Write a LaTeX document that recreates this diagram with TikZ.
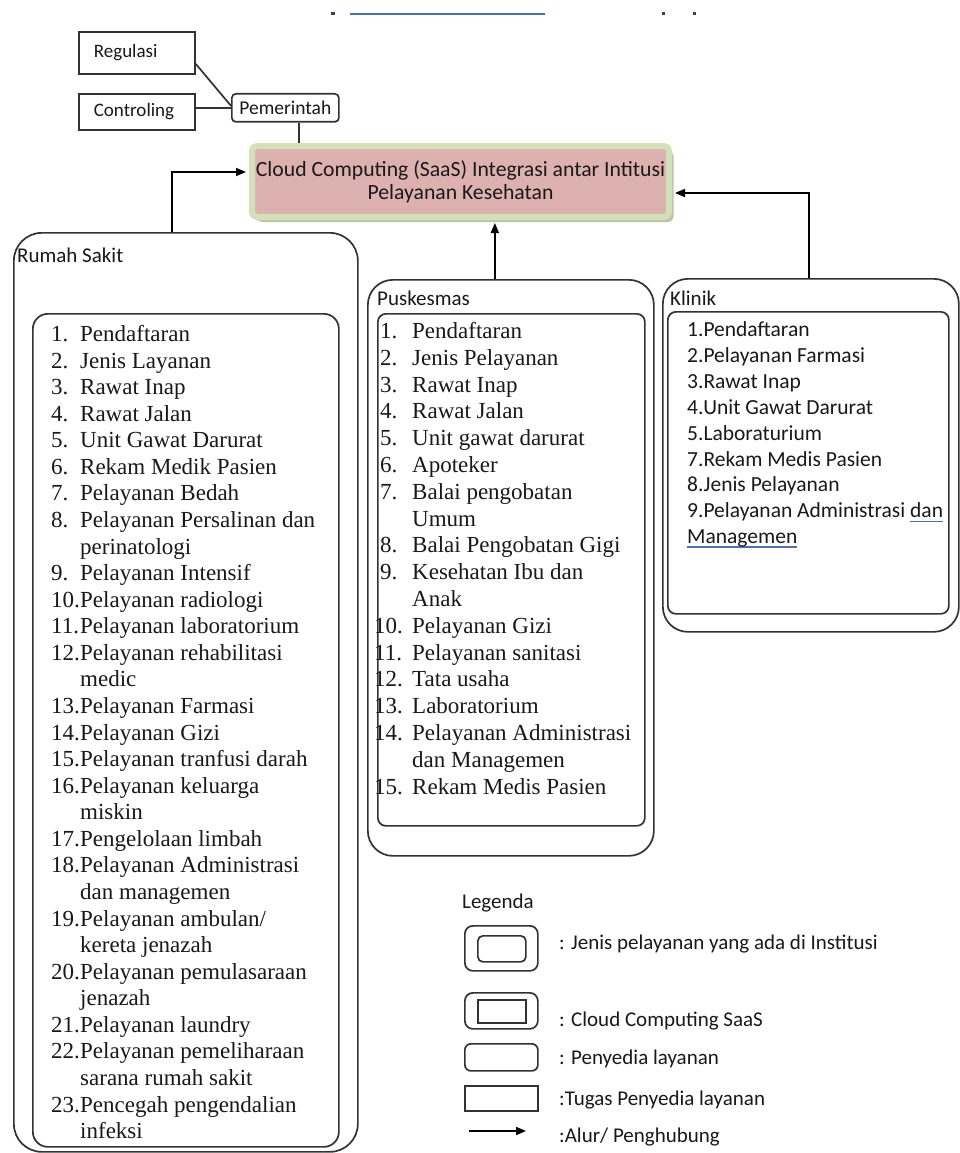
\documentclass[tikz,border=0pt]{standalone}
\usepackage{fontspec}
\setmainfont{Liberation Serif}
\newfontfamily\calib{Carlito}
\usetikzlibrary{arrows.meta,shadows,calc}
\definecolor{ln}{HTML}{333333}
\definecolor{cloudpink}{HTML}{DDB1B0}
\definecolor{cloudgreen}{HTML}{D3E1BA}
\definecolor{cloudshadow}{HTML}{9DB07E}
\definecolor{ulblue}{HTML}{4A6FC0}
\definecolor{linkblue}{HTML}{3F6FD0}
\newcommand{\blueul}[1]{\setbox0\hbox{#1}\rlap{\color{ulblue}\rule[-4pt]{\wd0}{1.3pt}}\box0}
\newcommand{\rn}[1]{\makebox[29pt][l]{#1}}
\newcommand{\pn}[1]{\makebox[32pt][l]{#1}}
\newcommand{\pnn}[1]{\makebox[32pt][l]{\hspace*{-6pt}#1}}
\begin{document}
\begin{tikzpicture}[x=1pt,y=-1pt,
  box/.style={draw=ln, line width=1.7pt, inner sep=0pt, anchor=north west},
  rbox/.style={box, rounded corners=#1},
  arr/.style={draw=black, line width=1.6pt, -{Triangle[length=10pt,width=8pt]}},
  conn/.style={draw=ln, line width=1.7pt},
  lbl/.style={font=\calib\fontsize{21}{24}\selectfont, anchor=base west, inner sep=0pt, text=black!90},
  gov/.style={box, minimum width=116pt, text width=86pt, inner xsep=15pt, align=left, font=\calib\fontsize{19}{22}\selectfont, text=black!90},
  serlist/.style={anchor=base west, inner sep=0pt, text=black!90},
]
\fill[white] (0,0) rectangle (960,1153);
\useasboundingbox (0,0) rectangle (960,1153);

% remnants at the top edge
\coordinate (bl1) at (350,14);
\coordinate (bl2) at (545,14);
\draw[linkblue, line width=2pt] (bl1) -- (bl2);
\fill[black!75] (331,12.5) rectangle (335,15.5);
\fill[black!75] (662,12.5) rectangle (665,15.5);
\fill[black!75] (693,12.5) rectangle (696,15.5);

% government
\node[gov, minimum height=42pt] (reg) at (78,31) {Regulasi};
\node[gov, minimum height=36pt] (ctrl) at (78,93) {Controling};
\node[rbox=4pt, minimum width=107pt, minimum height=28pt, font=\calib\fontsize{19.5}{22}\selectfont, text=black!90] (pem) at (231,93) {Pemerintah};

% cloud
\node[draw=cloudgreen, fill=cloudpink, line width=6pt, rounded corners=5pt,
      minimum width=417pt, minimum height=71pt, inner sep=0pt, align=center,
      font=\calib\fontsize{21.7}{23}\selectfont, text=black!90,
      drop shadow={shadow xshift=4.5pt, shadow yshift=-5pt, fill=cloudshadow, opacity=0.7}]
      (cloud) at (460.5,181.5) {Cloud Computing (SaaS) Integrasi antar Intitusi\\Pelayanan Kesehatan};

% Rumah Sakit
\node[rbox=28pt, minimum width=344pt, minimum height=919pt] (rs) at (13,232) {};
\node[rbox=15pt, minimum width=306pt, minimum height=833pt] (rsin) at (32,313) {};
\node[lbl] (rslbl) at (17,262) {Rumah Sakit};
\node[serlist, font=\fontsize{23}{26.57}\selectfont] (rslist) at (51,341.5) {\begin{tabular}[t]{@{}l@{}}
\rn{1.}Pendaftaran\\
\rn{2.}Jenis Layanan\\
\rn{3.}Rawat Inap\\
\rn{4.}Rawat Jalan\\
\rn{5.}Unit Gawat Darurat\\
\rn{6.}Rekam Medik Pasien\\
\rn{7.}Pelayanan Bedah\\
\rn{8.}Pelayanan Persalinan dan\\
\rn{}perinatologi\\
\rn{9.}Pelayanan Intensif\\
\rn{10.}Pelayanan radiologi\\
\rn{11.}Pelayanan laboratorium\\
\rn{12.}Pelayanan rehabilitasi\\
\rn{}medic\\
\rn{13.}Pelayanan Farmasi\\
\rn{14.}Pelayanan Gizi\\
\rn{15.}Pelayanan tranfusi darah\\
\rn{16.}Pelayanan keluarga\\
\rn{}miskin\\
\rn{17.}Pengelolaan limbah\\
\rn{18.}Pelayanan Administrasi\\
\rn{}dan managemen\\
\rn{19.}Pelayanan ambulan/\\
\rn{}kereta jenazah\\
\rn{20.}Pelayanan pemulasaraan\\
\rn{}jenazah\\
\rn{21.}Pelayanan laundry\\
\rn{22.}Pelayanan pemeliharaan\\
\rn{}sarana rumah sakit\\
\rn{23.}Pencegah pengendalian\\
\rn{}infeksi
\end{tabular}};

% Puskesmas
\node[rbox=25pt, minimum width=286pt, minimum height=576pt] (pk) at (367,279) {};
\node[rbox=8pt, minimum width=267pt, minimum height=512pt] (pkin) at (377,313) {};
\node[lbl] (pklbl) at (377,305) {Puskesmas};
\node[serlist, font=\fontsize{23}{26.8}\selectfont] (pklist) at (380,338.5) {\begin{tabular}[t]{@{}l@{}}
\pn{1.}Pendaftaran\\
\pn{2.}Jenis Pelayanan\\
\pn{3.}Rawat Inap\\
\pn{4.}Rawat Jalan\\
\pn{5.}Unit gawat darurat\\
\pn{6.}Apoteker\\
\pn{7.}Balai pengobatan\\
\pn{}Umum\\
\pn{8.}Balai Pengobatan Gigi\\
\pn{9.}Kesehatan Ibu dan\\
\pn{}Anak\\
\pnn{10.}Pelayanan Gizi\\
\pnn{11.}Pelayanan sanitasi\\
\pnn{12.}Tata usaha\\
\pnn{13.}Laboratorium\\
\pnn{14.}Pelayanan Administrasi\\
\pn{}dan Managemen\\
\pnn{15.}Rekam Medis Pasien
\end{tabular}};

% Klinik
\node[rbox=25pt, minimum width=296pt, minimum height=353pt] (kl) at (662,278) {};
\node[rbox=8pt, minimum width=281pt, minimum height=302pt] (klin) at (667,311) {};
\node[lbl] (kllbl) at (670,305) {Klinik};
\node[serlist, font=\calib\fontsize{21.5}{25.9}\selectfont] (kllist) at (687,336.5) {\begin{tabular}[t]{@{}l@{}}
1.Pendaftaran\\
2.Pelayanan Farmasi\\
3.Rawat Inap\\
4.Unit Gawat Darurat\\
5.Laboraturium\\
7.Rekam Medis Pasien\\
8.Jenis Pelayanan\\
9.Pelayanan Administrasi \blueul{dan}\\
\blueul{Managemen}
\end{tabular}};

% connectors
\draw[conn] ([yshift=-11pt]reg.east) -- ([yshift=2pt]pem.west);
\draw[conn] (ctrl.east |- pem.west) -- (pem.west);
\draw[conn] ([xshift=13.5pt]pem.south) -- ([xshift=13.5pt]pem.south |- cloud.north);
\draw[arr] ([xshift=159pt]rs.north west) |- ($(cloud.west)+(-3,-9.5)$);
\draw[arr] ($(pk.north)+(-16,0)$) -- ($(pk.north |- cloud.south)+(-16,3)$);
\draw[arr] ($(kl.north)+(-2,0)$) |- ($(cloud.east)+(3,11.5)$);

% legend
\node[lbl] (leg) at (462,908) {Legenda};
\node[rbox=8pt, minimum width=73pt, minimum height=45pt] (lg1o) at (464,925) {};
\node[rbox=5pt, minimum width=48pt, minimum height=26pt] (lg1i) at (477,935) {};
\node[lbl] (lg1t) at (559,949) {: Jenis pelayanan yang ada di Institusi};
\node[rbox=8pt, minimum width=73pt, minimum height=36pt] (lg2o) at (464,992) {};
\node[box, minimum width=48pt, minimum height=23pt, line width=2pt] (lg2i) at (477,999) {};
\node[lbl] (lg2t) at (559,1026) {: Cloud Computing SaaS};
\node[rbox=6pt, minimum width=73pt, minimum height=27pt] (lg3) at (464,1043) {};
\node[lbl] (lg3t) at (559,1064) {: Penyedia layanan};
\node[box, minimum width=73pt, minimum height=25pt] (lg4) at (464,1085) {};
\node[lbl] (lg4t) at (559,1105) {:Tugas Penyedia layanan};
\coordinate (la1) at (469,1131);
\coordinate (la2) at (526,1131);
\draw[arr] (la1) -- (la2);
\node[lbl] (lg5t) at (559,1142) {:Alur/ Penghubung};
\end{tikzpicture}
\end{document}
